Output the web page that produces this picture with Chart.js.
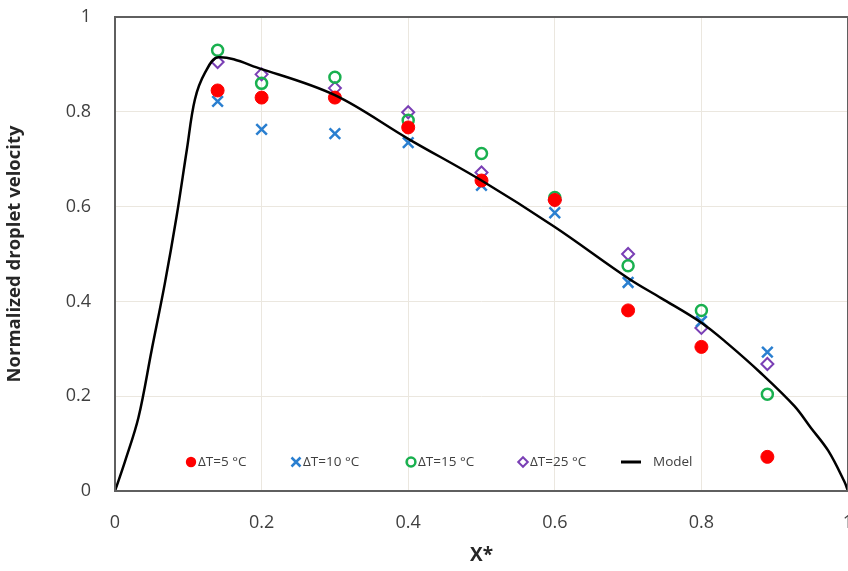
<!DOCTYPE html>
<html>
<head>
<meta charset="utf-8">
<script src="https://cdn.jsdelivr.net/npm/chart.js@4.4.1/dist/chart.umd.min.js"></script>
<style>
  html, body { margin: 0; padding: 0; background: #ffffff; }
  #wrap { width: 848px; height: 571px; overflow: hidden; }
</style>
</head>
<body>
<div id="wrap"><canvas id="chart" width="858" height="571"></canvas></div>
<script>
'use strict';
/* ---------------------------------------------------------------- DATA */
const xPositions = [0.14, 0.2, 0.3, 0.4, 0.5, 0.6, 0.7, 0.8, 0.89];
// measured points, one array per temperature difference
const dT5 = [0.845, 0.83, 0.83, 0.767, 0.655, 0.614, 0.381, 0.304, 0.072];
const dT10 = [0.822, 0.763, 0.754, 0.735, 0.645, 0.587, 0.44, 0.358, 0.293];
const dT15 = [0.93, 0.86, 0.873, 0.782, 0.712, 0.619, 0.475, 0.381, 0.204];
const dT25 = [0.905, 0.879, 0.85, 0.799, 0.672, 0.614, 0.5, 0.344, 0.268];

// model curve
const modelX = [0, 0.014, 0.032, 0.05, 0.068, 0.084, 0.098, 0.109, 0.123, 0.141,
  0.2, 0.3, 0.4, 0.5, 0.6, 0.7, 0.745, 0.8, 0.835, 0.881, 0.927, 0.949, 0.973, 0.995, 1];
const modelY = [0, 0.064, 0.155, 0.297, 0.438, 0.579, 0.72, 0.826, 0.883, 0.915,
  0.89, 0.835, 0.743, 0.655, 0.557, 0.449, 0.407, 0.355, 0.312, 0.249, 0.179, 0.134, 0.085, 0.02, 0];

const seriesNames = ['ΔT=5 °C', 'ΔT=10 °C', 'ΔT=15 °C', 'ΔT=25 °C', 'Model'];
const xTicks = [0, 0.2, 0.4, 0.6, 0.8, 1];
const xTickLabels = ['0', '0.2', '0.4', '0.6', '0.8', '1'];
const yTicks = [0, 0.2, 0.4, 0.6, 0.8, 1];
const yTickLabels = ['0', '0.2', '0.4', '0.6', '0.8', '1'];

/* ---------------------------------------------------------------- HELPERS */
function toPoints(xs, ys){
  return xs.map((x, i) => ({ x: x, y: ys[i] }));
}

const FONT = '"Open Sans", "Noto Sans", sans-serif';

// frame round the plot area
const framePlugin = {
  id: 'frame',
  afterDraw(chart){
    const a = chart.chartArea;
    const ctx = chart.ctx;
    ctx.save();
    ctx.strokeStyle = '#5f5f5f';
    ctx.lineWidth = 2;
    ctx.strokeRect(a.left, a.top, a.right - a.left, a.bottom - a.top);
    ctx.restore();
  }
};

// legend drawn inside the plot area, near the bottom
const insideLegend = {
  id: 'insideLegend',
  afterDraw(chart){
    const ctx = chart.ctx;
    const y = 462;
    const starts = [186, 291, 406, 518, 621];
    ctx.save();
    ctx.font = '13.5px ' + FONT;
    ctx.textBaseline = 'middle';
    chart.data.datasets.forEach((ds, i) => {
      const x0 = starts[i];
      let textX;
      if (ds.label === 'Model'){
        ctx.strokeStyle = '#000000';
        ctx.lineWidth = 3;
        ctx.beginPath();
        ctx.moveTo(x0, y);
        ctx.lineTo(x0 + 20, y);
        ctx.stroke();
        textX = x0 + 32;
      } else {
        const r = ds.pointRadius * 0.8;
        const cx = x0 + 5;
        ctx.fillStyle = ds.pointBackgroundColor;
        ctx.strokeStyle = ds.pointBorderColor;
        ctx.lineWidth = ds.pointBorderWidth;
        ctx.beginPath();
        if (ds.pointStyle === 'circle'){
          ctx.arc(cx, y, r, 0, Math.PI * 2);
          if (ds.filled) ctx.fill(); else ctx.stroke();
        } else if (ds.pointStyle === 'crossRot'){
          const d = r * 0.75;
          ctx.moveTo(cx - d, y - d); ctx.lineTo(cx + d, y + d);
          ctx.moveTo(cx + d, y - d); ctx.lineTo(cx - d, y + d);
          ctx.stroke();
        } else {
          ctx.moveTo(cx, y - r); ctx.lineTo(cx + r, y);
          ctx.lineTo(cx, y + r); ctx.lineTo(cx - r, y);
          ctx.closePath();
          ctx.stroke();
        }
        textX = x0 + 12;
      }
      ctx.fillStyle = '#404040';
      ctx.fillText(ds.label, textX, y);
    });
    ctx.restore();
  }
};

/* ---------------------------------------------------------------- CHART */
const ctxElem = document.getElementById('chart').getContext('2d');

const myChart = new Chart(ctxElem, {
  type: 'scatter',
  data: {
    datasets: [{
      label: seriesNames[0],
      data: toPoints(xPositions, dT5),
      pointStyle: 'circle',
      pointRadius: 6.5,
      pointBorderWidth: 1,
      pointBackgroundColor: '#ff0000',
      pointBorderColor: '#ff0000',
      filled: true,
      order: 2
    }, {
      label: seriesNames[1],
      data: toPoints(xPositions, dT10),
      pointStyle: 'crossRot',
      pointRadius: 7.5,
      pointBorderWidth: 2.5,
      pointBackgroundColor: '#2a7fd0',
      pointBorderColor: '#2a7fd0',
      order: 2
    }, {
      label: seriesNames[2],
      data: toPoints(xPositions, dT15),
      pointStyle: 'circle',
      pointRadius: 5.5,
      pointBorderWidth: 2.5,
      pointBackgroundColor: 'rgba(0,0,0,0)',
      pointBorderColor: '#19b04f',
      order: 2
    }, {
      label: seriesNames[3],
      data: toPoints(xPositions, dT25),
      pointStyle: 'rectRot',
      pointRadius: 6,
      pointBorderWidth: 2,
      pointBackgroundColor: 'rgba(0,0,0,0)',
      pointBorderColor: '#7a3fb5',
      order: 2
    }, {
      label: seriesNames[4],
      data: toPoints(modelX, modelY),
      showLine: true,
      borderColor: '#000000',
      borderWidth: 2.5,
      pointRadius: 0,
      tension: 0.35,
      order: 1
    }]
  },
  options: {
    responsive: false,
    animation: false,
    layout: { padding: { top: 17, right: 1, left: 0, bottom: 0 } },
    plugins: {
      legend: { display: false },
      tooltip: { enabled: false }
    },
    scales: {
      x: {
        type: 'linear',
        min: 0,
        max: 1,
        afterFit(scale){
          scale.height = 80;
          scale.paddingRight = 0;
        },
        afterBuildTicks(scale){ scale.ticks = xTicks.map(v => ({ value: v })); },
        // invisible tick marks push the labels down without widening the right margin
        grid: { color: '#ebe7df', lineWidth: 1, drawTicks: true, tickLength: 21, tickColor: 'rgba(0,0,0,0)' },
        border: { display: false },
        ticks: {
          padding: 0,
          color: '#3f3f3f',
          font: { family: FONT, size: 18 },
          maxRotation: 0,
          callback: (v, i) => xTickLabels[i]
        },
        title: {
          display: true,
          text: 'X*',
          color: '#262626',
          font: { family: FONT, size: 19, weight: 'bold' },
          padding: { top: 4 }
        }
      },
      y: {
        type: 'linear',
        min: 0,
        max: 1,
        afterFit(scale){
          scale.width = 115;
          scale.paddingTop = 0;
          scale.paddingBottom = 0;
        },
        afterBuildTicks(scale){ scale.ticks = yTicks.map(v => ({ value: v })); },
        grid: { color: '#ebe7df', lineWidth: 1, drawTicks: false },
        border: { display: false },
        ticks: {
          padding: 24,
          color: '#3f3f3f',
          font: { family: FONT, size: 18 },
          callback: (v, i) => yTickLabels[i]
        },
        title: {
          display: true,
          text: 'Normalized droplet velocity',
          color: '#262626',
          font: { family: FONT, size: 18.5, weight: 'bold' },
          padding: { bottom: 2 }
        }
      }
    }
  },
  plugins: [framePlugin, insideLegend]
});
</script>
</body>
</html>
